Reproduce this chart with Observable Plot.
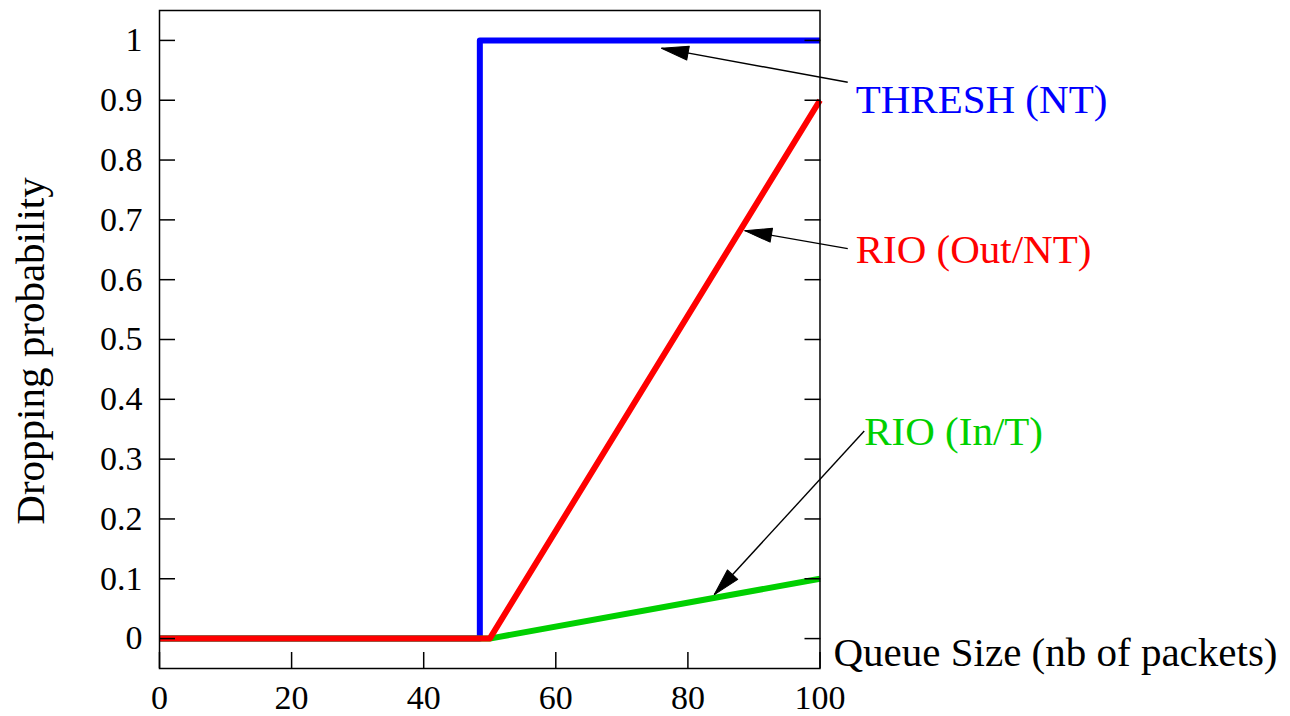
<!DOCTYPE html>
<html><head><meta charset="utf-8">
<script src="https://cdn.jsdelivr.net/npm/d3@7"></script>
<script src="https://cdn.jsdelivr.net/npm/@observablehq/plot@0.6"></script>
<style>body{margin:0;background:#fff;color:#000;}</style>
</head><body><div id="chart"></div>
<script>
// ---- data ----
const xTicks = [0, 20, 40, 60, 80, 100];
const yTicks = [0, 0.1, 0.2, 0.3, 0.4, 0.5, 0.6, 0.7, 0.8, 0.9, 1];
const threshX = [0, 48.5, 48.5, 100];
const threshY = [0, 0, 1, 1];
const rioOutX = [0, 50, 100];
const rioOutY = [0, 0, 0.9];
const rioInX = [0, 50, 100];
const rioInY = [0, 0, 0.1];
const seriesNames = ["THRESH (NT)", "RIO (Out/NT)", "RIO (In/T)"];
const seriesColors = ["#0000ff", "#ff0000", "#00d000"];
const labelX = [105.4, 105.4, 106.7];
const labelY = [0.901, 0.649, 0.345];
const arrowTailX = [104.2, 104.2, 106.7];
const arrowTailY = [0.930, 0.652, 0.347];
const arrowTipX = [76.0, 88.6, 84.0];
const arrowTipY = [0.987, 0.682, 0.0736];
const xLabel = "Queue Size (nb of packets)";
const yLabel = "Dropping probability";

// ---- layout ----
const W = 1290, H = 716;
const mL = 159, mR = 470.5, mT = 10, mB = 48;
const xDomain = [0, 100], yDomain = [-0.05, 1.05];
const font = "'Liberation Serif', 'Times New Roman', serif";

const toRows = (xs, ys) => xs.map((x, i) => ({x, y: ys[i]}));
const thresh = toRows(threshX, threshY);
const rioOut = toRows(rioOutX, rioOutY);
const rioIn = toRows(rioInX, rioInY);

const sx = Plot.scale({x: {domain: xDomain, range: [mL, W - mR]}});
const sy = Plot.scale({y: {domain: yDomain, range: [H - mB, mT]}});
const notes = seriesNames.map((name, i) => {
  const dxp = sx.apply(arrowTipX[i]) - sx.apply(arrowTailX[i]);
  const dyp = sy.apply(arrowTipY[i]) - sy.apply(arrowTailY[i]);
  return {
    name, color: seriesColors[i],
    lx: labelX[i], ly: labelY[i],
    x1: arrowTailX[i], y1: arrowTailY[i],
    x2: arrowTipX[i], y2: arrowTipY[i],
    angle: Math.atan2(dxp, -dyp) * 180 / Math.PI
  };
});

const headShape = {
  draw(ctx, l, r) {
    ctx.moveTo(0, 0);
    ctx.lineTo(-r, l);
    ctx.lineTo(r, l);
    ctx.closePath();
  }
};

const lineOpts = (color) => ({x: "x", y: "y", stroke: color, strokeWidth: 6, strokeLinejoin: "round", strokeLinecap: "butt"});

const chart = Plot.plot({
  width: W, height: H,
  marginLeft: mL, marginRight: mR, marginTop: mT, marginBottom: mB,
  style: {background: "white", fontFamily: font, color: "black"},
  x: {domain: xDomain},
  y: {domain: yDomain},
  marks: [
    Plot.line(thresh, lineOpts(seriesColors[0])),
    Plot.line(rioIn, lineOpts(seriesColors[2])),
    Plot.line(rioOut, lineOpts(seriesColors[1])),
    Plot.frame({stroke: "black", strokeWidth: 1.5}),
    Plot.axisY(yTicks, {anchor: "left", tickSize: -16, tickPadding: 33, strokeWidth: 1.5,
      tickFormat: d => String(d), fontSize: 34, label: null}),
    Plot.axisY(yTicks, {anchor: "right", tickSize: -16, strokeWidth: 1.5, fill: "none", label: null}),
    Plot.axisX(xTicks, {anchor: "bottom", tickSize: -16, tickPadding: 32, strokeWidth: 1.5,
      tickFormat: d => String(d), fontSize: 34, label: null}),
    Plot.link(notes, {x1: "x1", y1: "y1", x2: "x2", y2: "y2", stroke: "black", strokeWidth: 1.4}),
    Plot.vector(notes, {x: "x2", y: "y2", rotate: "angle", length: 27, r: 7, shape: headShape,
      anchor: "start", fill: "black", stroke: "black", strokeWidth: 1}),
    ...notes.map(n => Plot.text([n], {x: "lx", y: "ly", text: "name", fill: n.color,
      textAnchor: "start", fontSize: 41})),
    Plot.text([xLabel], {text: d => d, frameAnchor: "bottom-right", textAnchor: "start",
      dx: 13.5, dy: -3, fontSize: 41}),
    Plot.text([yLabel], {text: d => d, frameAnchor: "left", rotate: -90, textAnchor: "middle",
      dx: -129, dy: 11.5, fontSize: 41})
  ]
});
document.getElementById("chart").appendChild(chart);
</script>
</body></html>
